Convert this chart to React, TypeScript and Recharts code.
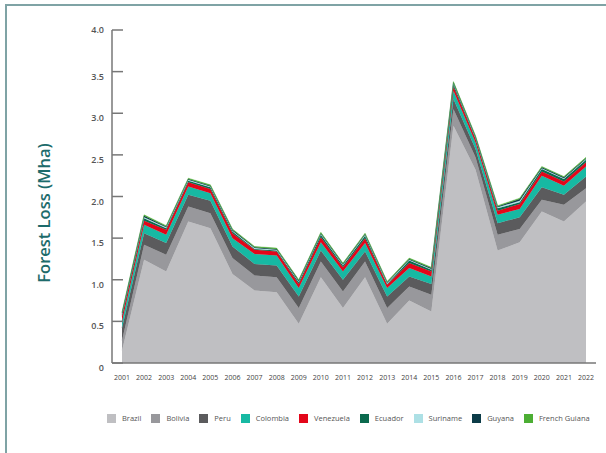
import { AreaChart, Area, XAxis, YAxis } from "recharts";

const years = [
  "2001", "2002", "2003", "2004", "2005", "2006", "2007", "2008", "2009", "2010", "2011",
  "2012", "2013", "2014", "2015", "2016", "2017", "2018", "2019", "2020", "2021", "2022",
];

// forest loss by country, Mha
const brazil = [0.15, 1.24, 1.1, 1.7, 1.62, 1.07, 0.87, 0.85, 0.47, 1.03, 0.66, 1.03, 0.47, 0.75, 0.62, 2.85, 2.32, 1.35, 1.45, 1.82, 1.7, 1.94];
const bolivia = [0.12, 0.18, 0.2, 0.18, 0.18, 0.19, 0.18, 0.18, 0.19, 0.19, 0.2, 0.19, 0.19, 0.17, 0.2, 0.2, 0.15, 0.19, 0.16, 0.14, 0.2, 0.16];
const peru = [0.15, 0.14, 0.14, 0.14, 0.15, 0.14, 0.14, 0.14, 0.14, 0.13, 0.14, 0.12, 0.14, 0.12, 0.13, 0.12, 0.1, 0.14, 0.14, 0.15, 0.12, 0.14];
const colombia = [0.08, 0.1, 0.1, 0.1, 0.09, 0.1, 0.12, 0.12, 0.1, 0.1, 0.1, 0.1, 0.1, 0.1, 0.09, 0.1, 0.08, 0.1, 0.1, 0.14, 0.11, 0.12];
const venezuela = [0.06, 0.05, 0.06, 0.05, 0.05, 0.06, 0.05, 0.05, 0.05, 0.06, 0.05, 0.06, 0.04, 0.06, 0.06, 0.05, 0.04, 0.05, 0.06, 0.05, 0.05, 0.05];
const ecuador = [0.02, 0.03, 0.02, 0.02, 0.02, 0.02, 0.01, 0.01, 0.02, 0.03, 0.02, 0.03, 0.01, 0.03, 0.02, 0.03, 0.01, 0.03, 0.02, 0.03, 0.03, 0.03];
const suriname = [0.01, 0.01, 0.01, 0.01, 0.01, 0.01, 0.01, 0.01, 0.01, 0.01, 0.01, 0.01, 0.01, 0.01, 0.01, 0.01, 0.01, 0.01, 0.02, 0.01, 0.01, 0.01];
const guyana = [0.01, 0.02, 0.01, 0.01, 0.01, 0.01, 0.01, 0.01, 0.01, 0.01, 0.01, 0.01, 0.01, 0.01, 0.01, 0.01, 0.01, 0.01, 0.02, 0.01, 0.01, 0.01];
const frenchGuiana = [0.01, 0.01, 0.01, 0.01, 0.01, 0.01, 0.01, 0.01, 0.01, 0.01, 0.01, 0.01, 0.01, 0.01, 0.01, 0.01, 0.01, 0.01, 0.01, 0.01, 0.01, 0.01];

const yTicks = [0, 0.5, 1, 1.5, 2, 2.5, 3, 3.5, 4];

const series = [
  { key: "brazil", name: "Brazil", values: brazil, color: "#bfbfc2" },
  { key: "bolivia", name: "Bolivia", values: bolivia, color: "#98989c" },
  { key: "peru", name: "Peru", values: peru, color: "#5b5b5d" },
  { key: "colombia", name: "Colombia", values: colombia, color: "#17b9a3" },
  { key: "venezuela", name: "Venezuela", values: venezuela, color: "#e3061a" },
  { key: "ecuador", name: "Ecuador", values: ecuador, color: "#0b6a4e" },
  { key: "suriname", name: "Suriname", values: suriname, color: "#ade0e5" },
  { key: "guyana", name: "Guyana", values: guyana, color: "#0c3c48" },
  { key: "frenchGuiana", name: "French Guiana", values: frenchGuiana, color: "#4cae34" },
];

const data = years.map((year, i) => {
  const row: Record<string, string | number> = { year };
  series.forEach((s) => (row[s.key] = s.values[i]));
  return row;
});

const FONT = "'Open Sans', 'DejaVu Sans', sans-serif";

const YTick = (props: any) => {
  const v = props.payload.value;
  return (
    <text x={props.x} y={props.y + (v === 4 ? 3 : 8)} textAnchor="end" fontSize={9} fontWeight={600} fill="#555" fontFamily={FONT}>
      {v === 0 ? "0" : v.toFixed(1)}
    </text>
  );
};

export default function App() {
  return (
    <div style={{ position: "fixed", left: 0, top: 0, width: 606, height: 453, overflow: "hidden", background: "#fff" }}>
      <div
        style={{
          position: "absolute",
          left: 5,
          top: 4,
          width: 700,
          height: 600,
          borderLeft: "2px solid #7fa3a5",
          borderTop: "2px solid #7fa3a5",
          zIndex: 5,
        }}
      />
      <div style={{ position: "absolute", left: 0, top: 0 }}>
        <AreaChart width={606} height={453} data={data} margin={{ top: 30, right: 10, bottom: 60, left: 32 }}>
          <XAxis
            dataKey="year"
            padding={{ left: 10, right: 10 }}
            axisLine={{ stroke: "#777", strokeWidth: 1.5 }}
            tickLine={false}
            tickMargin={6}
            interval={0}
            height={30}
            tick={{ fontSize: 7, fill: "#444", fontFamily: FONT }}
          />
          <YAxis
            width={80}
            domain={[0, 4]}
            ticks={yTicks}
            axisLine={{ stroke: "#777", strokeWidth: 1.5 }}
            tickLine={{ stroke: "#777", strokeWidth: 1.5 }}
            tickSize={-11}
            tickMargin={19}
            tick={YTick}
          />
          {series.map((s) => (
            <Area
              key={s.key}
              type="linear"
              dataKey={s.key}
              name={s.name}
              stackId="1"
              fill={s.color}
              fillOpacity={1}
              stroke={s.color}
              strokeWidth={0.4}
              isAnimationActive={false}
            />
          ))}
        </AreaChart>
      </div>
      <svg style={{ position: "absolute", left: 0, top: 0, pointerEvents: "none" }} width={606} height={453}>
        <text
          x={50}
          y={213}
          transform="rotate(-90 50 213)"
          textAnchor="middle"
          fontSize={16.5}
          fontWeight={600}
          fill="#1d6b6b"
          fontFamily={FONT}
        >
          Forest Loss (Mha)
        </text>
      </svg>
      <div
        style={{
          position: "absolute",
          left: 107,
          top: 413,
          display: "flex",
          alignItems: "center",
          gap: 10,
          fontFamily: FONT,
          fontSize: 7.5,
          color: "#555",
          whiteSpace: "nowrap",
        }}
      >
        {series.map((s) => (
          <div key={s.key} style={{ display: "flex", alignItems: "center", gap: 6 }}>
            <span style={{ display: "inline-block", width: 9, height: 9, background: s.color }} />
            <span>{s.name}</span>
          </div>
        ))}
      </div>
    </div>
  );
}
